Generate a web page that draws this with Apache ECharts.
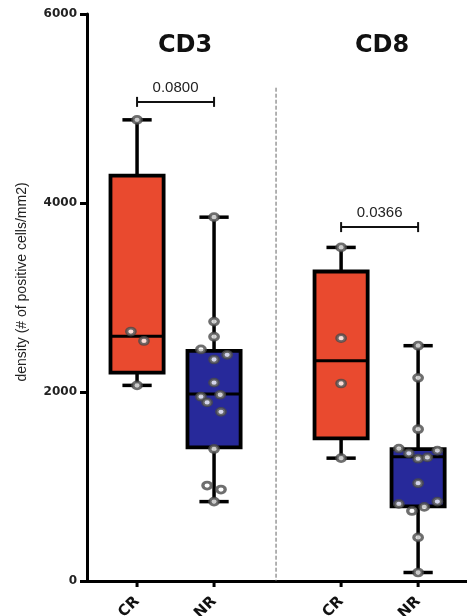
<!DOCTYPE html>
<html><head><meta charset="utf-8">
<script src="https://cdn.jsdelivr.net/npm/echarts@6/dist/echarts.min.js"></script>
<style>html,body{margin:0;padding:0;background:#fff}#c{width:467px;height:616px}</style>
</head><body><div id="c"></div>
<script>
// ---------------- DATA ----------------
const groupTitles = ['CD3', 'CD8'];
const categories = ['CR', 'NR', 'CR', 'NR'];
const yTickValues = [0, 2000, 4000, 6000];
const yAxisTitle = 'density (# of positive cells/mm2)';

// box stats: [min, Q1, median, Q3, max]
const cd3CRBox = [2070, 2205, 2590, 4290, 4880];
const cd3NRBox = [840, 1415, 1980, 2435, 3850];
const cd8CRBox = [1300, 1510, 2330, 3275, 3530];
const cd8NRBox = [90, 790, 1315, 1395, 2490];

// individual points and their horizontal jitter (axis units)
const cd3CRPoints = [4880, 2640, 2540, 2070];
const cd3CRJitter = [0, -0.08, 0.09, 0];
const cd3NRPoints = [3850, 2745, 2585, 2450, 2394, 2344, 2099, 1971, 1950, 1890, 1790, 1397, 1010, 968, 840];
const cd3NRJitter = [0, 0, 0, -0.17, 0.17, 0, 0, 0.08, -0.17, -0.09, 0.09, 0, -0.09, 0.09, 0];
const cd8CRPoints = [3530, 2570, 2090, 1300];
const cd8CRJitter = [0, 0, 0, 0];
const cd8NRPoints = [2490, 2150, 1606, 1401, 1351, 1294, 1308, 1380, 1035, 816, 741, 784, 840, 461, 90];
const cd8NRJitter = [0, 0, 0, -0.25, -0.12, 0, 0.12, 0.25, 0, -0.25, -0.08, 0.08, 0.25, 0, 0];

const pValues = ['0.0800', '0.0366'];
const bracketLevels = [5070, 3745];

// ---------------- LAYOUT / STYLE ----------------
const xPos = [0, 1, 2.65, 3.65];
const xMin = -0.65, xMax = 4.285;
const dividerX = 1.805, dividerTop = 5220;
const BOX_HALF = 0.345, CAP_HALF = 0.19;
const RED = '#E94A2F', BLUE = '#27299A';

const boxes = [cd3CRBox, cd3NRBox, cd8CRBox, cd8NRBox];
const pts = [cd3CRPoints, cd3NRPoints, cd8CRPoints, cd8NRPoints];
const jit = [cd3CRJitter, cd3NRJitter, cd8CRJitter, cd8NRJitter];

const boxData = boxes.map((b, i) => [xPos[i]].concat(b));
const scatterData = [];
pts.forEach((arr, i) => arr.forEach((v, k) => scatterData.push([xPos[i] + jit[i][k], v])));
const bracketData = pValues.map((p, g) => [xPos[2 * g], xPos[2 * g + 1], bracketLevels[g]]);

function ln(x1, y1, x2, y2, w, color) {
  return { type: 'line', shape: { x1, y1, x2, y2 }, style: { stroke: color || '#000', lineWidth: w, lineCap: 'butt' } };
}

function renderBox(params, api) {
  const x = api.value(0);
  const c = v => api.coord([x, v]);
  const pMin = c(api.value(1)), pQ1 = c(api.value(2)), pMed = c(api.value(3)), pQ3 = c(api.value(4)), pMax = c(api.value(5));
  const xl = api.coord([x - BOX_HALF, 0])[0], xr = api.coord([x + BOX_HALF, 0])[0];
  const cl = api.coord([x - CAP_HALF, 0])[0], cr = api.coord([x + CAP_HALF, 0])[0];
  const cx = pMed[0];
  const fill = categories[params.dataIndex] === 'CR' ? RED : BLUE;
  return { type: 'group', children: [
    ln(cx, pQ3[1], cx, pMax[1], 3.5),
    ln(cx, pQ1[1], cx, pMin[1], 3.5),
    ln(cl, pMax[1], cr, pMax[1], 3.5),
    ln(cl, pMin[1], cr, pMin[1], 3.5),
    { type: 'rect', shape: { x: xl, y: pQ3[1], width: xr - xl, height: pQ1[1] - pQ3[1] },
      style: { fill: fill, stroke: '#000', lineWidth: 3.8 } },
    ln(xl, pMed[1], xr, pMed[1], 3)
  ]};
}

function renderBracket(params, api) {
  const p1 = api.coord([api.value(0), api.value(2)]);
  const p2 = api.coord([api.value(1), api.value(2)]);
  return { type: 'group', children: [
    ln(p1[0], p1[1], p2[0], p2[1], 2, '#111'),
    ln(p1[0], p1[1] - 5, p1[0], p1[1] + 5, 2, '#111'),
    ln(p2[0], p2[1] - 5, p2[0], p2[1] + 5, 2, '#111'),
    { type: 'text', x: (p1[0] + p2[0]) / 2, y: p1[1] - 14,
      style: { text: pValues[params.dataIndex], fill: '#222', font: '15px "Liberation Sans", Arial, sans-serif',
        align: 'center', verticalAlign: 'middle' } }
  ]};
}

function renderXTick(params, api) {
  const p = api.coord([api.value(0), 0]);
  return { type: 'group', children: [
    ln(p[0], p[1], p[0], p[1] + 6, 3),
    { type: 'text', x: p[0], y: p[1] + 18, rotation: Math.PI / 4,
      style: { text: categories[params.dataIndex], fill: '#111', font: 'bold 15px "DejaVu Sans", sans-serif',
        align: 'right', verticalAlign: 'middle' } }
  ]};
}

function renderDivider(params, api) {
  const top = api.coord([api.value(0), api.value(1)]);
  const bot = api.coord([api.value(0), 0]);
  return { type: 'line', shape: { x1: top[0], y1: top[1], x2: bot[0], y2: bot[1] },
    style: { stroke: '#666', lineWidth: 1, lineDash: [4, 2] } };
}

const chart = echarts.init(document.getElementById('c'), null, { renderer: 'canvas' });
chart.setOption({
  animation: false,
  backgroundColor: '#fff',
  grid: { left: 87, right: 0, top: 14, bottom: 35, containLabel: false, outerBoundsMode: 'none' },
  xAxis: {
    type: 'value', min: xMin, max: xMax,
    axisLine: { show: true, onZero: false, lineStyle: { color: '#000', width: 3 } },
    axisTick: { show: false }, axisLabel: { show: false }, splitLine: { show: false }
  },
  yAxis: {
    type: 'value', min: yTickValues[0], max: yTickValues[yTickValues.length - 1],
    interval: yTickValues[1] - yTickValues[0],
    axisLine: { show: true, onZero: false, lineStyle: { color: '#000', width: 3 } },
    axisTick: { show: true, length: 7, lineStyle: { color: '#000', width: 3 } },
    axisLabel: { margin: 10, color: '#222', fontFamily: 'DejaVu Sans', fontWeight: 'bold', fontSize: 12,
      formatter: v => String(v) },
    splitLine: { show: false }
  },
  graphic: [
    { type: 'text', x: 185, y: 46, style: { text: groupTitles[0], fill: '#111', font: 'bold 24px "DejaVu Sans", sans-serif', align: 'center', verticalAlign: 'middle' } },
    { type: 'text', x: 382, y: 46, style: { text: groupTitles[1], fill: '#111', font: 'bold 24px "DejaVu Sans", sans-serif', align: 'center', verticalAlign: 'middle' } },
    { type: 'text', x: 22, y: 282, rotation: Math.PI / 2, style: { text: yAxisTitle, fill: '#222', font: '14px "Liberation Sans", Arial, sans-serif', align: 'center', verticalAlign: 'middle' } }
  ],
  series: [
    { type: 'custom', name: 'divider', renderItem: renderDivider, data: [[dividerX, dividerTop]], clip: false, z: 1 },
    { type: 'custom', name: 'boxes', renderItem: renderBox, data: boxData, encode: { x: 0, y: [1, 2, 3, 4, 5] }, clip: false, z: 2 },
    { type: 'scatter', name: 'points', data: scatterData, symbol: 'circle', symbolSize: [8.5, 7],
      itemStyle: { color: '#fff', borderColor: '#4a4a4a', borderWidth: 3 }, z: 5, silent: true },
    { type: 'custom', name: 'brackets', renderItem: renderBracket, data: bracketData, clip: false, z: 3 },
    { type: 'custom', name: 'xticks', renderItem: renderXTick, data: xPos.map(x => [x, 0]), clip: false, z: 4 }
  ]
});
</script>
</body></html>
